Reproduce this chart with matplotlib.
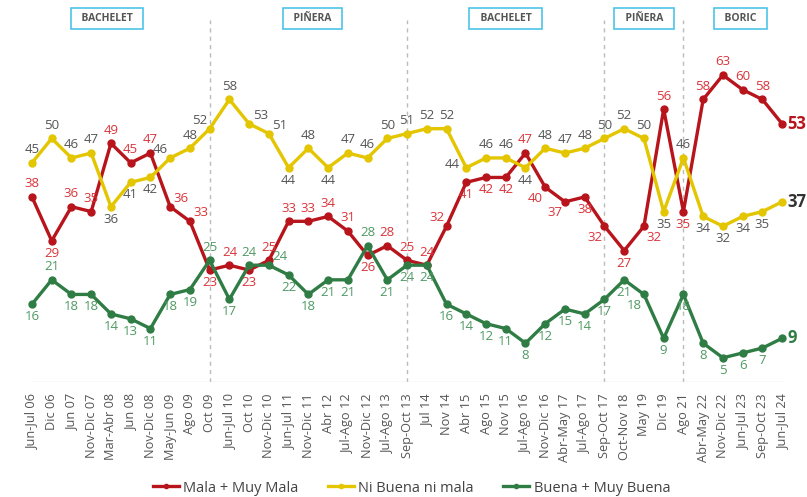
import matplotlib
matplotlib.use("Agg")
import matplotlib.pyplot as plt

plt.rcParams['font.family'] = ['Open Sans', 'DejaVu Sans']

# periodos de medición
periodos = [
    "Jun-Jul 06", "Dic 06", "Jun 07", "Nov-Dic 07", "Mar-Abr 08", "Jun 08",
    "Nov-Dic 08", "May-Jun 09", "Ago 09", "Oct 09", "Jun-Jul 10", "Oct 10",
    "Nov-Dic 10", "Jun-Jul 11", "Nov-Dic 11", "Abr 12", "Jul-Ago 12",
    "Nov-Dic 12", "Jul-Ago 13", "Sep-Oct 13", "Jul 14", "Nov 14", "Abr 15",
    "Ago 15", "Nov 15", "Jul-Ago 16", "Nov-Dic 16", "Abr-May 17", "Jul-Ago 17",
    "Sep-Oct 17", "Oct-Nov 18", "May 19", "Dic 19", "Ago 21", "Abr-May 22",
    "Nov-Dic 22", "Jun-Jul 23", "Sep-Oct 23", "Jun-Jul 24",
]

mala = [38, 29, 36, 35, 49, 45, 47, 36, 33, 23, 24, 23, 25, 33, 33, 34, 31,
        26, 28, 25, 24, 32, 41, 42, 42, 47, 40, 37, 38, 32, 27, 32, 56, 35,
        58, 63, 60, 58, 53]
ni_ni = [45, 50, 46, 47, 36, 41, 42, 46, 48, 52, 58, 53, 51, 44, 48, 44, 47,
         46, 50, 51, 52, 52, 44, 46, 46, 44, 48, 47, 48, 50, 52, 50, 35, 46,
         34, 32, 34, 35, 37]
buena = [16, 21, 18, 18, 14, 13, 11, 18, 19, 25, 17, 24, 24, 22, 18, 21, 21,
         28, 21, 24, 24, 16, 14, 12, 11, 8, 12, 15, 14, 17, 21, 18, 9, 18,
         8, 5, 6, 7, 9]

# gobiernos y posición central de su etiqueta
gobiernos = ["BACHELET", "PIÑERA", "BACHELET", "PIÑERA", "BORIC"]
gob_centro = [3.8, 14.2, 24.0, 31.0, 35.9]
cambios = [9, 19, 29, 33]

# posición de etiquetas: a=arriba, b=abajo, l/r combinaciones
pos_mala = ["a", "b", "a", "a", "a", "a", "a", "ar", "ar", "b", "a", "b", "a",
            "a", "a", "a", "a", "b", "a", "a", "a", "al", "b", "b", "b", "a",
            "bl", "bl", "b", "bl", "b", "br", "a", "b", "a", "a", "a", "a", "r"]
pos_ni = ["a", "a", "a", "a", "b", "b", "b", "al", "a", "al", "a", "ar", "ar",
          "b", "a", "b", "a", "a", "a", "a", "a", "a", "l", "a", "a", "b", "a",
          "a", "a", "a", "a", "a", "b", "a", "b", "b", "b", "b", "r"]
pos_buena = ["b", "a", "b", "b", "b", "b", "b", "b", "b", "a", "b", "a", "ar",
             "b", "b", "b", "b", "a", "b", "b", "b", "b", "b", "b", "b", "b",
             "b", "b", "b", "b", "b", "bl", "b", "b", "b", "b", "b", "b", "r"]

C_RED, C_RED_T = "#B8141C", "#D9343A"
C_YEL, C_YEL_T = "#E3C500", "#555555"
C_GRN, C_GRN_T = "#2F7D45", "#4E9A62"

fig = plt.figure(figsize=(8.07, 4.97), dpi=100)
ax = fig.add_axes([0, 0.231, 1, 0.769])
x = list(range(len(periodos)))

series = [
    (mala, C_RED, C_RED_T, "#B8141C", pos_mala, "Mala + Muy Mala"),
    (ni_ni, C_YEL, C_YEL_T, "#333333", pos_ni, "Ni Buena ni mala"),
    (buena, C_GRN, C_GRN_T, C_GRN, pos_buena, "Buena + Muy Buena"),
]

# desplazamientos en puntos
offs = {"a": (0, 9.5), "b": (0, -9), "l": (-10, 2), "r": (4, 0),
        "al": (-7, 6), "ar": (8, 6), "bl": (-7, -8), "br": (7, -8)}

for vals, col, tcol, lastcol, pos, lab in series:
    ax.plot(x, vals, color=col, lw=2.4, marker="o", ms=5, label=lab, zorder=3)
    for i, v in enumerate(vals):
        dx, dy = offs[pos[i]]
        last = i == len(vals) - 1
        ax.annotate(str(v), (i, v), xytext=(dx, dy), textcoords="offset points",
                    ha="left" if last else "center", va="center",
                    fontsize=12 if last else 9.5,
                    fontweight="bold" if last else "normal",
                    color=lastcol if last else tcol, zorder=4)

# líneas de cambio de gobierno
for c in cambios:
    ax.plot([c, c], [0, 74.2], color="#BBBBBB", lw=1, ls=(0, (3, 3)), zorder=1)

for nombre, xc in zip(gobiernos, gob_centro):
    ax.text(xc, 74.6, "  " + nombre + "  ", ha="center", va="center", fontsize=7.5,
            fontweight="bold", color="#555555",
            bbox=dict(boxstyle="square,pad=0.5", fc="white", ec="#4CC4E8", lw=1.2))

ax.plot([0, len(periodos) - 1], [0, 0], color="#DDDDDD", lw=1, zorder=1)

ax.set_xlim(-1.62, 39.26)
ax.set_ylim(0, 78.4)
ax.set_xticks(x)
ax.set_xticklabels(periodos, rotation=90, fontsize=9.2, color="#555555")
ax.tick_params(axis="x", length=0, pad=8)
ax.set_yticks([])
for s in ax.spines.values():
    s.set_visible(False)

fig.legend(loc="center", bbox_to_anchor=(0.51, 0.018), ncol=3, frameon=False,
           fontsize=10.5, labelcolor="#444444", handlelength=1.8, handletextpad=0.3,
           columnspacing=2.0, markerscale=0.6)

fig.savefig("out.png", dpi=100)
